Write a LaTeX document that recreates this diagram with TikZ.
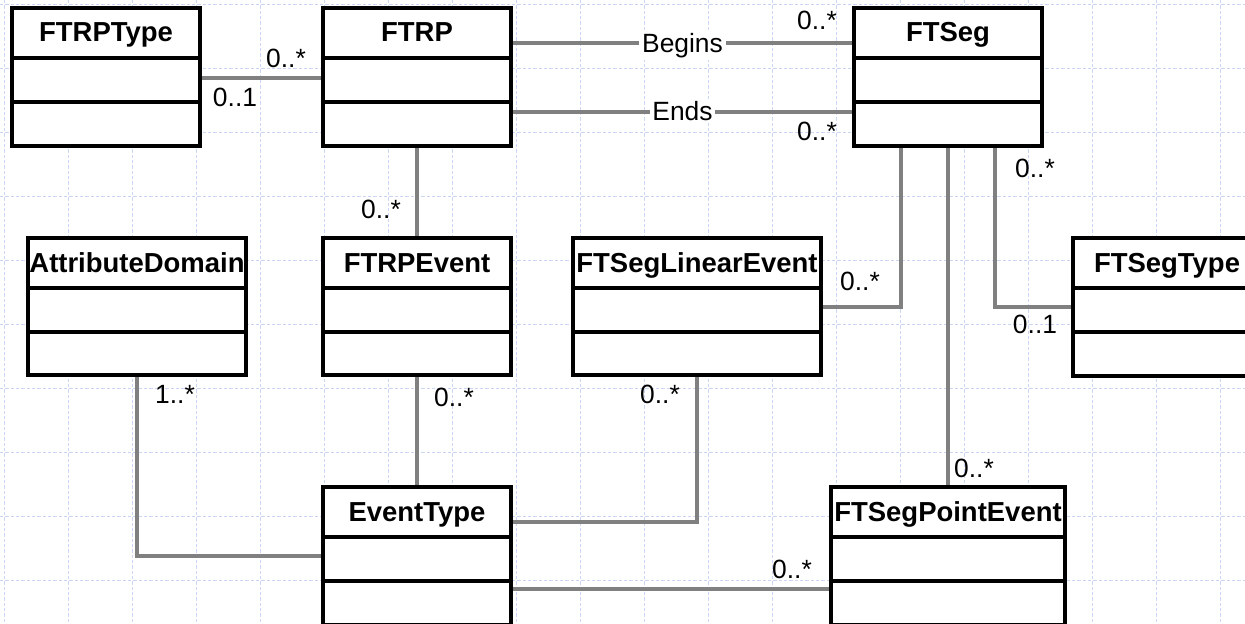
\documentclass[tikz,border=0pt]{standalone}
\usepackage{fontspec}
\setmainfont{Liberation Sans}
\definecolor{gridblue}{HTML}{CAD7F4}
\definecolor{assocgray}{HTML}{808080}
\pgfdeclarelayer{gridlayer}
\pgfdeclarelayer{lineslayer}
\pgfsetlayers{gridlayer,lineslayer,main}
\tikzset{
  cls/.style={draw=black, line width=2.6pt, fill=white, rectangle, anchor=north west, inner sep=0pt, outer sep=0pt},
  divider/.style={draw=black, line width=2.6pt},
  ctitle/.style={font=\fontsize{20.6}{24}\selectfont\bfseries, anchor=base, inner sep=0pt},
  assoc/.style={draw=assocgray, line width=2.3pt},
  mult/.style={font=\fontsize{19.8}{24}\selectfont, anchor=base, inner sep=0pt},
  rolelbl/.style={font=\fontsize{19.8}{24}\selectfont, fill=white, inner sep=2pt, anchor=base},
  gridline/.style={draw=gridblue, line width=0.6pt, dash pattern=on 2.5pt off 1.5pt}
}
\newcommand{\UmlCls}[6]{%
  \node[cls, minimum width=#4*0.75pt, minimum height=#5*0.75pt] (#1) at (#2,#3) {};
  \draw[divider] ([yshift=-50*0.75pt]#1.north west) -- ([yshift=-50*0.75pt]#1.north east);
  \draw[divider] ([yshift=-94*0.75pt]#1.north west) -- ([yshift=-94*0.75pt]#1.north east);
  \node[ctitle] at ([yshift=-34*0.75pt]#1.north) {#6};
}
\begin{document}
\begin{tikzpicture}[x=0.75pt,y=-0.75pt]
\useasboundingbox (0,0) rectangle (1245,624);
\clip (0,0) rectangle (1245,624);
\begin{pgfonlayer}{gridlayer}
  \fill[white] (0,0) rectangle (1245,624);
  \foreach \i in {0,...,19} { \draw[gridline] (4+64*\i,0) -- (4+64*\i,624); }
  \foreach \j in {0,...,9} { \draw[gridline] (0,4+64*\j) -- (1245,4+64*\j); }
\end{pgfonlayer}

% classes
\UmlCls{ftrptype}{12}{8}{188}{138}{FTRPType}
\UmlCls{ftrp}{323}{8}{188}{138}{FTRP}
\UmlCls{ftseg}{854}{8}{188}{138}{FTSeg}
\UmlCls{attrdom}{28}{238}{218}{137}{AttributeDomain}
\UmlCls{ftrpevent}{323}{238}{188}{137}{FTRPEvent}
\UmlCls{ftseglin}{573}{238}{248}{137}{FTSegLinearEvent}
\UmlCls{ftsegtype}{1073}{238}{188}{138}{FTSegType}
\UmlCls{eventtype}{323}{487}{188}{138}{EventType}
\UmlCls{ftsegpoint}{831}{487}{234}{138}{FTSegPointEvent}

% bend / level coordinates
\coordinate (h1) at (0,78);
\coordinate (h2) at (0,43);
\coordinate (h3) at (0,112);
\coordinate (h5) at (0,589);
\coordinate (b1) at (901,307);
\coordinate (b2) at (995,307);
\coordinate (b3) at (137,556);
\coordinate (b4) at (697,522);

\begin{pgfonlayer}{lineslayer}
  \draw[assoc] (ftrptype.east |- h1) -- (ftrp.west |- h1);
  \draw[assoc] (ftrp.east |- h2) -- node[rolelbl, midway, yshift=-6.8pt] {Begins} (ftseg.west |- h2);
  \draw[assoc] (ftrp.east |- h3) -- node[rolelbl, midway, yshift=-6.3pt] {Ends} (ftseg.west |- h3);
  \draw[assoc] (ftrp.south) -- (ftrpevent.north);
  \draw[assoc] (ftseg.south -| b1) -- (b1) -- (ftseglin.east |- b1);
  \draw[assoc] (ftseg.south) -- (ftsegpoint.north);
  \draw[assoc] (ftseg.south -| b2) -- (b2) -- (ftsegtype.west |- b2);
  \draw[assoc] (attrdom.south) -- (attrdom.south |- b3) -- (eventtype.west |- b3);
  \draw[assoc] (ftrpevent.south) -- (eventtype.north);
  \draw[assoc] (eventtype.east |- b4) -- (b4) -- (ftseglin.south);
  \draw[assoc] (eventtype.east |- h5) -- (ftsegpoint.west |- h5);
\end{pgfonlayer}

% multiplicities
\node[mult] (m1) at (286,68) {0..*};
\node[mult] (m2) at (235,107) {0..1};
\node[mult] (m3) at (817,30) {0..*};
\node[mult] (m4) at (817,141) {0..*};
\node[mult] (m5) at (381,218) {0..*};
\node[mult] (m6) at (860,290) {0..*};
\node[mult] (m7) at (1035,178) {0..*};
\node[mult] (m8) at (1035,333) {0..1};
\node[mult] (m9) at (974,477) {0..*};
\node[mult] (m10) at (175,403) {1..*};
\node[mult] (m11) at (454,406) {0..*};
\node[mult] (m12) at (660,403) {0..*};
\node[mult] (m13) at (792,578) {0..*};
\end{tikzpicture}
\end{document}
